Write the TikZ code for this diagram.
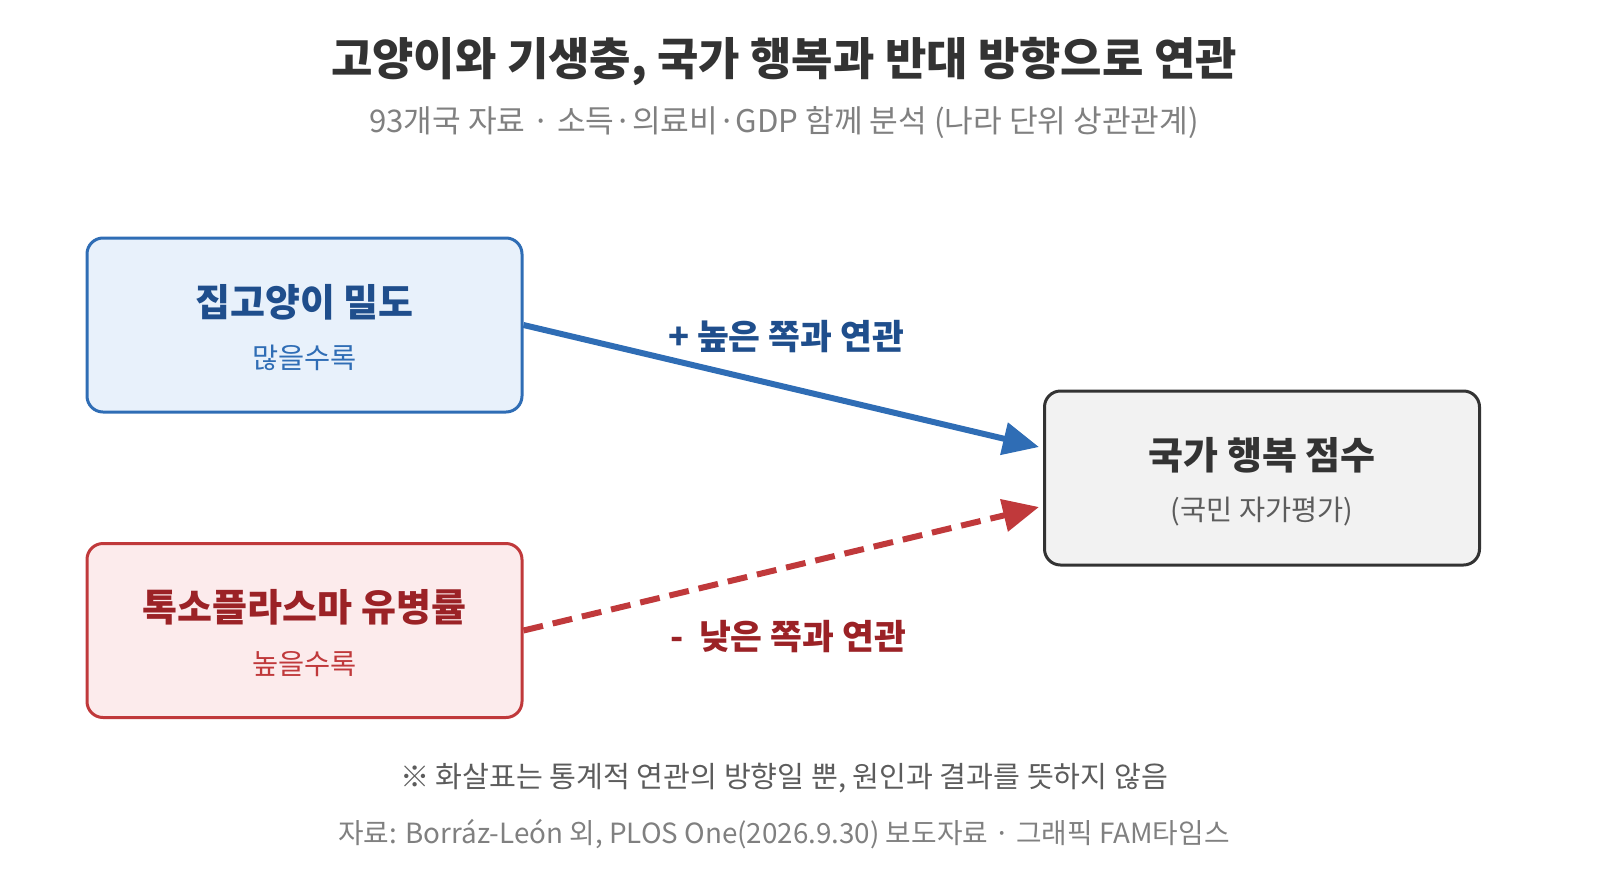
\documentclass[tikz,border=0pt]{standalone}
\usepackage{fontspec}
\setmainfont{Noto Sans CJK KR}
\usetikzlibrary{arrows.meta}
\definecolor{bl}{HTML}{2F6DB5}
\definecolor{blf}{HTML}{E8F1FB}
\definecolor{blt}{HTML}{1F4E8C}
\definecolor{rd}{HTML}{C0393B}
\definecolor{rdf}{HTML}{FCEBEC}
\definecolor{rdt}{HTML}{9B2226}
\definecolor{gy}{HTML}{333333}
\definecolor{gyf}{HTML}{F2F2F2}
\tikzset{
 box/.style={draw, line width=1.5pt, rounded corners=8pt, minimum width=217.5pt, minimum height=87pt},
 ttl/.style={font=\fontsize{19}{22}\selectfont\bfseries},
 sub/.style={font=\fontsize{14.2}{16}\selectfont},
 lbl/.style={font=\fontsize{17.3}{20}\selectfont\bfseries},
}
\begin{document}
\begin{tikzpicture}[x=0.5pt,y=-0.5pt]
\useasboundingbox (0,0) rectangle (1600,889);
\node[font=\fontsize{22.5}{26}\selectfont\bfseries, text=gy] (t) at (784,62) {고양이와 기생충, 국가 행복과 반대 방향으로 연관};
\node[font=\fontsize{15.6}{18}\selectfont, text=gray] (s) at (784,123) {93개국 자료 · 소득·의료비·GDP 함께 분석 (나라 단위 상관관계)};
\node[box, draw=bl, fill=blf] (a) at (304.5,325) {};
\node[ttl, text=blt] at (304.5,302) {집고양이 밀도};
\node[sub, text=bl] at (304.5,358) {많을수록};
\node[box, draw=rd, fill=rdf] (b) at (304.5,630.5) {};
\node[ttl, text=rdt] at (304.5,607) {톡소플라스마 유병률};
\node[sub, text=rd] at (304.5,664) {높을수록};
\node[box, draw=gy, fill=gyf] (c) at (1262,478) {};
\node[ttl, text=gy] at (1262,455) {국가 행복 점수};
\node[sub, text=gy!80] at (1262,512) {(국민 자가평가)};
\draw[bl, line width=3pt, -{Triangle[length=18pt,width=16pt]}] (a.east) -- ([xshift=-2pt]c.west |- 0,447);
\draw[rd, line width=3pt, dash pattern=on 10pt off 5pt, -{Triangle[length=18pt,width=16pt]}] (b.east) -- ([xshift=-2pt]c.west |- 0,507);
\node[lbl, text=blt] at (786,337) {+ 높은 쪽과 연관};
\node[lbl, text=rdt] at (788,637) {-\ \ 낮은 쪽과 연관};
\node[font=\fontsize{14.6}{17}\selectfont, text=gy!80] at (784,778) {※ 화살표는 통계적 연관의 방향일 뿐, 원인과 결과를 뜻하지 않음};
\node[font=\fontsize{13.9}{16}\selectfont, text=gray] at (784,834) {자료: Borráz-León 외, PLOS One(2026.9.30) 보도자료 · 그래픽 FAM타임스};
\end{tikzpicture}
\end{document}
